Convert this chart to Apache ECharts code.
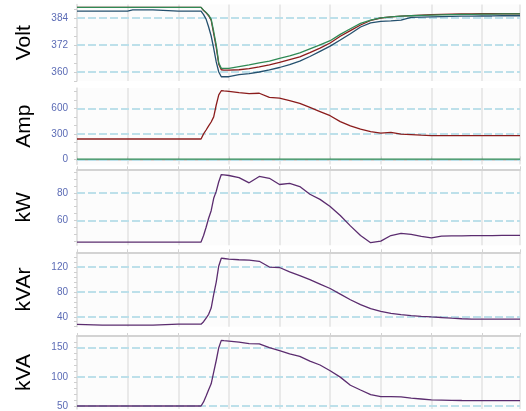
<!DOCTYPE html>
<html><head><meta charset="utf-8">
<script src="https://cdn.jsdelivr.net/npm/echarts@6/dist/echarts.min.js"></script>
<style>html,body{margin:0;padding:0;background:#fff}#c{width:526px;height:411px}</style>
</head><body><div id="c"></div>
<script>
// time axis (units = one vertical grid interval)
const time = [0, 0.5, 1, 1.1, 1.5, 2, 2.45, 2.5, 2.55, 2.6, 2.65, 2.7, 2.75, 2.8, 2.85, 2.9, 3.0,
  3.2, 3.4, 3.6, 3.8, 4.0, 4.2, 4.4, 4.6, 4.8, 5.0, 5.2, 5.4, 5.6, 5.8, 6.0, 6.2, 6.4, 6.6, 6.8,
  7.0, 7.2, 7.4, 7.6, 7.8, 8.0, 8.2, 8.4, 8.6, 8.75];

const voltGreen = [388.7, 388.7, 388.7, 388.7, 388.7, 388.7, 388.7,
  387.5, 386.5, 385.3, 383.5, 378, 372, 364, 361.6, 361.6, 361.6,
  362.4, 363.2, 364.1, 364.8, 366.1, 367.2, 368.5, 370.3, 372.1, 373.9, 376.7, 379.2, 381.6, 383.1,
  384.1, 384.5, 384.8, 385.0, 385.2, 385.3, 385.4, 385.5, 385.6, 385.6, 385.7, 385.7, 385.8, 385.8, 385.8];
const voltRed = [388.7, 388.7, 388.7, 388.7, 388.7, 388.7, 388.7,
  387.3, 386.3, 385.0, 383.0, 377, 371, 363.5, 361.0, 360.8, 360.8,
  361.0, 361.5, 362.3, 363.2, 364.3, 365.5, 366.7, 368.6, 370.6, 372.9, 375.9, 378.4, 380.9, 382.9,
  384.0, 384.5, 384.8, 385.1, 385.3, 385.5, 385.6, 385.7, 385.8, 385.8, 385.9, 385.9, 385.9, 385.9, 385.9];
const voltBlue = [387.1, 387.1, 387.1, 387.6, 387.6, 387.1, 387.1,
  385.5, 383.5, 380, 376, 370.5, 364.5, 360, 357.9, 357.9, 357.9,
  358.8, 359.3, 360.0, 360.9, 362.0, 363.3, 364.8, 366.9, 369.2, 371.5, 374.2, 377.0, 380.0, 381.8,
  382.5, 382.7, 383.1, 384.3, 384.4, 384.5, 384.6, 384.7, 384.8, 384.8, 384.9, 384.9, 385.0, 385.0, 385.0];

const ampRed = [240, 240, 240, 240, 240, 240, 240,
  300, 346, 395, 440, 500, 640, 760, 808, 805, 800,
  785, 775, 778, 730, 720, 692, 660, 612, 563, 514, 445, 395, 356, 326,
  308, 318, 298, 292, 285, 279, 279, 279, 279, 279, 279, 279, 279, 279, 279];
const ampGreen = [3, 3, 3, 3, 3, 3, 3, 3, 3, 3, 3, 3, 3, 3, 3, 3, 3, 3, 3, 3, 3, 3, 3,
  3, 3, 3, 3, 3, 3, 3, 3, 3, 3, 3, 3, 3, 3, 3, 3, 3, 3, 3, 3, 3, 3, 3];

const kW = [44.3, 44.3, 44.3, 44.3, 44.3, 44.3, 44.3,
  49, 55, 61.5, 67, 76, 81, 88, 93.2, 93, 92.5,
  91, 87.2, 91.8, 90.5, 86, 86.8, 84.5, 78.9, 75.2, 70, 63.5, 56, 49, 43.8,
  45, 49, 50.5, 49.8, 48.4, 47.3, 48.6, 48.7, 48.8, 48.9, 49, 49, 49.1, 49.1, 49.1];

const kVAr = [27.6, 26.5, 26.5, 26.5, 26.5, 28, 28,
  32, 38, 44, 54, 76, 96, 122, 134.5, 134, 133,
  132, 131.5, 129.5, 120.2, 119.5, 112.5, 106.5, 100, 92.8, 85.6, 76.5, 67.5, 59.5, 53.2,
  48.8, 45.5, 43.6, 42, 40.7, 39.7, 38.8, 37.7, 36.8, 36.2, 36.1, 36.1, 36.1, 36.1, 36.1];

const kVA = [50, 50, 50, 50, 50, 50, 50,
  57, 67, 78, 88, 108, 128, 150, 162.5, 162, 161.3,
  159.5, 157, 156.5, 150, 145, 139.5, 135, 127, 120.3, 110.4, 99.5, 85.6, 77.4, 69.5,
  66, 66, 65.5, 63.5, 62, 60.4, 60, 59.6, 59.4, 59.3, 59.2, 59.2, 59.2, 59.2, 59.2];

const panelNames = ['Volt', 'Amp', 'kW', 'kVAr', 'kVA'];
const voltTicks = [360, 372, 384];
const ampTicks = [0, 300, 600];
const kwTicks = [60, 80];
const kvarTicks = [40, 80, 120];
const kvaTicks = [50, 100, 150];
const voltMinor = [356, 360, 364, 368, 372, 376, 380, 384, 388];
const ampMinor = [0, 100, 200, 300, 400, 500, 600, 700, 800];
const kwMinor = [45, 50, 55, 60, 65, 70, 75, 80, 85, 90, 95];
const kvarMinor = [24, 32, 40, 48, 56, 64, 72, 80, 88, 96, 104, 112, 120, 128, 136];
const kvaMinor = [50, 60, 70, 80, 90, 100, 110, 120, 130, 140, 150, 160];

const panels = [
  {top: 4.5, height: 76.5, min: 356, max: 390, labels: voltTicks, minor: voltMinor,
   lines: [[voltRed, '#8b1c1c'], [voltBlue, '#24506e'], [voltGreen, '#2f8a55']]},
  {top: 88, height: 76.5, min: -60, max: 840, labels: ampTicks, minor: ampMinor,
   lines: [[ampGreen, '#2f8a55'], [ampRed, '#8b1c1c']]},
  {top: 169.3, height: 75.9, min: 42, max: 97, labels: kwTicks, minor: kwMinor,
   lines: [[kW, '#5b2c6f']]},
  {top: 252.3, height: 74.4, min: 24, max: 144, labels: kvarTicks, minor: kvarMinor,
   lines: [[kVAr, '#5b2c6f']]},
  {top: 336, height: 75.8, min: 45, max: 170, labels: kvaTicks, minor: kvaMinor,
   lines: [[kVA, '#5b2c6f']]}
];

const grid = [], xAxis = [], yAxis = [], series = [];
panels.forEach((p, i) => {
  grid.push({left: 77, right: 6, top: p.top, height: p.height, show: true,
    backgroundColor: '#fcfcfc', borderWidth: 0});
  xAxis.push({type: 'value', gridIndex: i, min: 0, max: 8.75, interval: 1, position: 'top',
    axisLine: {show: i > 0, lineStyle: {color: '#d3d3d3', width: 2}},
    axisTick: {show: i > 0, length: 3, lineStyle: {color: '#d3d3d3'}},
    axisLabel: {show: false},
    splitLine: {show: true, lineStyle: {color: '#e3e3e3', width: 1.5}}});
  yAxis.push({type: 'value', gridIndex: i, min: p.min, max: p.max,
    name: panelNames[i], nameLocation: 'middle', nameGap: 42, nameRotate: 90,
    nameTextStyle: {fontSize: 21, color: '#000', fontFamily: 'Liberation Sans, Arial, sans-serif'},
    axisLine: {show: true, lineStyle: {color: '#e0e0e0', width: 1.5}},
    axisTick: {show: true, customValues: p.minor, length: 3, lineStyle: {color: '#cfcfcf'}},
    axisLabel: {customValues: p.labels, color: '#5b6bb5', fontSize: 10, margin: 9,
      fontFamily: 'Liberation Sans, Arial, sans-serif'},
    splitLine: {show: false}});
  p.lines.forEach((ln, k) => {
    const s = {type: 'line', xAxisIndex: i, yAxisIndex: i, symbol: 'none', animation: false,
      data: time.map((t, j) => [t, ln[0][j]]),
      lineStyle: {color: ln[1], width: 1.3}, itemStyle: {color: ln[1]}, z: 3};
    if (k === 0) {
      s.markLine = {silent: true, symbol: ['none', 'none'], label: {show: false}, z: 1,
        animation: false,
        lineStyle: {color: '#bde0ea', width: 2, type: [8, 3]},
        data: p.labels.map(v => ({yAxis: v}))};
    }
    series.push(s);
  });
});

const chart = echarts.init(document.getElementById('c'), null, {renderer: 'canvas'});
chart.setOption({animation: false, backgroundColor: '#fff', grid, xAxis, yAxis, series});
</script>
</body></html>
